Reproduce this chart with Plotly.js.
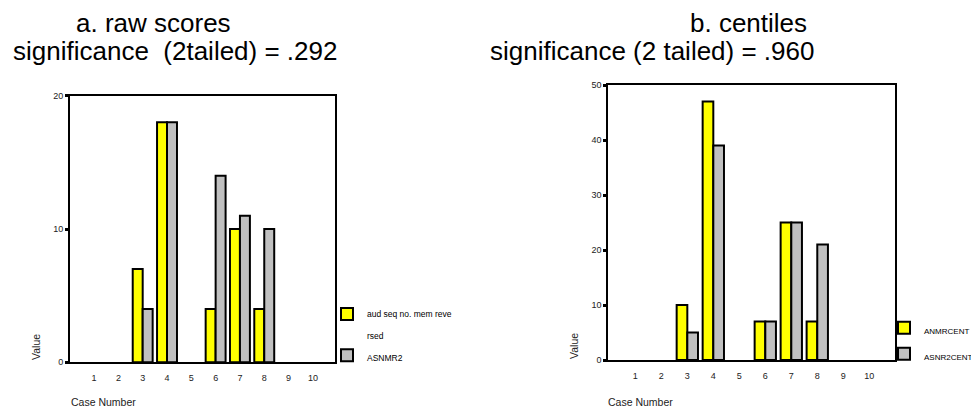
<!DOCTYPE html>
<html>
<head>
<meta charset="utf-8">
<script src="https://cdn.plot.ly/plotly-3.0.1.min.js"></script>
<style>html,body{margin:0;padding:0;background:#fff;overflow:hidden;}#chart{width:971px;height:407px;}</style>
</head>
<body>
<div id="chart"></div>
<script>
const cases = [1, 2, 3, 4, 5, 6, 7, 8, 9, 10];
const rawAudSeq = [0, 0, 7, 18, 0, 4, 10, 4, 0, 0];
const rawAsnmr2 = [0, 0, 4, 18, 0, 14, 11, 10, 0, 0];
const centAnmr = [0, 0, 10, 47, 0, 7, 25, 7, 0, 0];
const centAsnr2 = [0, 0, 5, 39, 0, 7, 25, 21, 0, 0];
const seriesNames = ['aud seq no. mem reve<br> <br>rsed', 'ASNMR2', 'ANMRCENT', 'ASNR2CENT'];

const FONT = 'Liberation Sans, Arial, Helvetica, sans-serif';
const W = 971, H = 407;
const px = v => v / W;
const py = v => 1 - v / H;

const yellow = '#ffff00';
const gray = '#c0c0c0';
const outline = {color: '#000', width: 2};
// zero-height bars leave nothing to draw; keep the x axis line clean
const heights = vals => vals.map(v => (v === 0 ? null : v));

const traces = [
  {type: 'bar', x: cases, y: heights(rawAudSeq), name: seriesNames[0], xaxis: 'x', yaxis: 'y', legend: 'legend', legendgroup: 'a',
   marker: {color: yellow, line: outline}, hoverinfo: 'skip'},
  {type: 'bar', x: cases, y: heights(rawAsnmr2), name: seriesNames[1], xaxis: 'x', yaxis: 'y', legend: 'legend', legendgroup: 'b',
   marker: {color: gray, line: outline}, hoverinfo: 'skip'},
  {type: 'bar', x: cases, y: heights(centAnmr), name: seriesNames[2], xaxis: 'x2', yaxis: 'y2', legend: 'legend2', legendgroup: 'c',
   marker: {color: yellow, line: outline}, hoverinfo: 'skip'},
  {type: 'bar', x: cases, y: heights(centAsnr2), name: seriesNames[3], xaxis: 'x2', yaxis: 'y2', legend: 'legend2', legendgroup: 'd',
   marker: {color: gray, line: outline}, hoverinfo: 'skip'}
];

const xBase = {
  tickvals: cases, ticktext: cases.map(String), ticks: '', showgrid: false, zeroline: false,
  showline: true, mirror: true, linecolor: '#000', linewidth: 2,
  tickfont: {family: FONT, size: 9, color: '#222'}, ticklabelstandoff: 6, fixedrange: true
};
const yBase = {
  ticks: 'outside', ticklen: 3, tickwidth: 3, tickcolor: '#000', showgrid: false, zeroline: false,
  showline: true, mirror: true, linecolor: '#000', linewidth: 2, dtick: 10,
  tickfont: {family: FONT, size: 9, color: '#222'}, fixedrange: true
};

const legendBase = {
  bgcolor: 'rgba(0,0,0,0)', borderwidth: 0, valign: 'top', xanchor: 'left', yanchor: 'top',
  itemclick: false, itemdoubleclick: false
};

const layout = {
  width: W, height: H,
  margin: {l: 0, r: 0, t: 0, b: 0, autoexpand: false},
  paper_bgcolor: '#fff', plot_bgcolor: '#fff',
  showlegend: true,
  barmode: 'group', bargap: 0.18, bargroupgap: 0,
  font: {family: FONT, color: '#000'},
  xaxis: Object.assign({}, xBase, {domain: [px(70), px(335)], range: [0.01, 10.91], anchor: 'y'}),
  yaxis: Object.assign({}, yBase, {domain: [py(362.3), py(95.7)], range: [0, 20], anchor: 'x'}),
  xaxis2: Object.assign({}, xBase, {domain: [px(608.3), px(895)], range: [-0.04, 10.99], anchor: 'y2'}),
  yaxis2: Object.assign({}, yBase, {domain: [py(360), py(85)], range: [0, 50], anchor: 'x2'}),
  legend: Object.assign({}, legendBase, {x: px(327), y: py(302), tracegroupgap: 5,
    font: {family: FONT, size: 8.5, color: '#000'}}),
  legend2: Object.assign({}, legendBase, {x: px(884), y: py(316), tracegroupgap: 7,
    font: {family: FONT, size: 8, color: '#000'}}),
  annotations: [
    {text: 'a. raw scores', x: px(153), y: py(23), xref: 'paper', yref: 'paper', xanchor: 'center', yanchor: 'middle', showarrow: false, font: {family: FONT, size: 26, color: '#000'}},
    {text: 'significance  (2tailed) = .292', x: px(175), y: py(51), xref: 'paper', yref: 'paper', xanchor: 'center', yanchor: 'middle', showarrow: false, font: {family: FONT, size: 26, color: '#000'}},
    {text: 'b. centiles', x: px(748), y: py(23), xref: 'paper', yref: 'paper', xanchor: 'center', yanchor: 'middle', showarrow: false, font: {family: FONT, size: 26, color: '#000'}},
    {text: 'significance (2 tailed) = .960', x: px(651.5), y: py(51), xref: 'paper', yref: 'paper', xanchor: 'center', yanchor: 'middle', showarrow: false, font: {family: FONT, size: 26, color: '#000'}},
    {text: 'Value', textangle: -90, x: px(36), y: py(347), xref: 'paper', yref: 'paper', xanchor: 'center', yanchor: 'middle', showarrow: false, font: {family: FONT, size: 10.5, color: '#222'}},
    {text: 'Value', textangle: -90, x: px(574), y: py(346), xref: 'paper', yref: 'paper', xanchor: 'center', yanchor: 'middle', showarrow: false, font: {family: FONT, size: 10.5, color: '#222'}},
    {text: 'Case Number', x: px(69), y: py(402), xref: 'paper', yref: 'paper', xanchor: 'left', yanchor: 'middle', showarrow: false, font: {family: FONT, size: 10.5, color: '#222'}},
    {text: 'Case Number', x: px(606), y: py(402), xref: 'paper', yref: 'paper', xanchor: 'left', yanchor: 'middle', showarrow: false, font: {family: FONT, size: 10.5, color: '#222'}}
  ]
};

Plotly.newPlot('chart', traces, layout, {staticPlot: true, displayModeBar: false});
</script>
</body>
</html>
